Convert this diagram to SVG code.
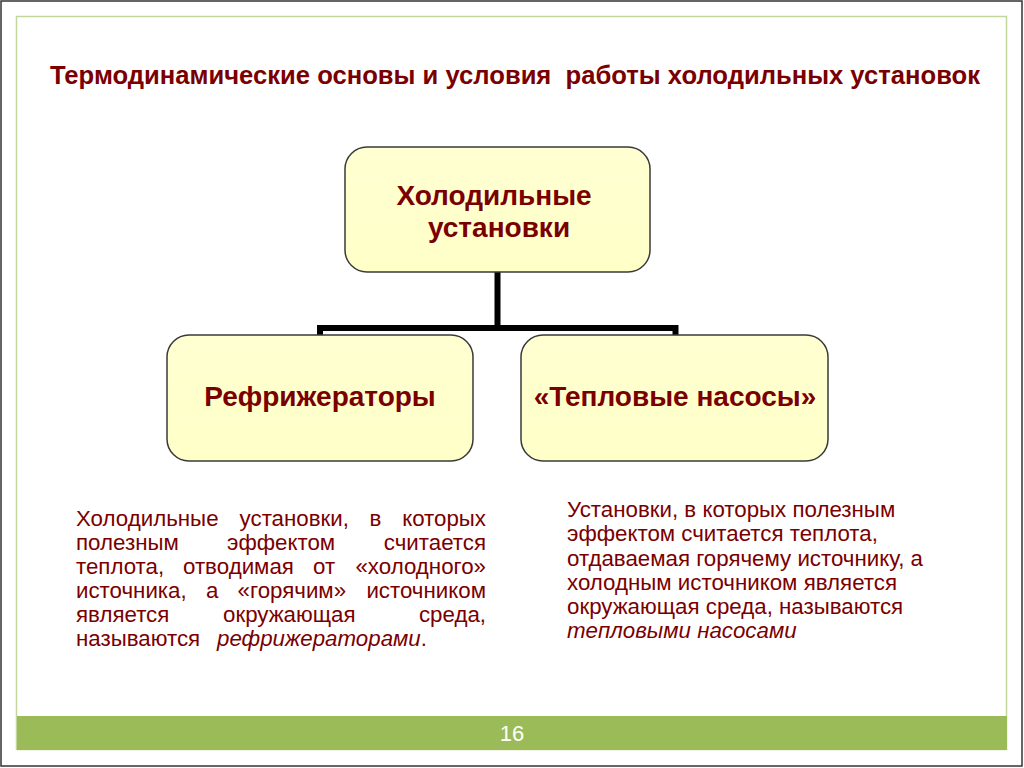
<svg xmlns="http://www.w3.org/2000/svg" width="1024" height="768" viewBox="0 0 1024 768">
<defs>
<linearGradient id="boxfill" x1="0" y1="0" x2="0" y2="1">
<stop offset="0" stop-color="#FFFFD2"/>
<stop offset="1" stop-color="#FFFFC8"/>
</linearGradient>
<style>
.box{fill:url(#boxfill);stroke:#3a3a3a;stroke-width:1.5}
.lbl{font-family:"Liberation Sans",Arial,sans-serif;font-weight:bold;fill:#7A0000;text-anchor:middle}
.body{font-family:"Liberation Sans",Arial,sans-serif;font-size:22.3px;fill:#7A0000}
.it{font-style:italic}
.conn{fill:none;stroke:#000;stroke-width:6;stroke-linejoin:miter;stroke-linecap:butt}
</style>
</defs>
<rect x="0" y="0" width="1024" height="768" fill="#fff"/>
<rect x="1" y="1" width="1021" height="765" fill="none" stroke="#333" stroke-width="1.5"/>
<rect x="16.5" y="16.5" width="990" height="733" fill="none" stroke="#C3D69B" stroke-width="1.5"/>
<rect x="17" y="716" width="990" height="34" fill="#9BBB59"/>
<text x="512" y="741" font-family="'Liberation Sans',Arial,sans-serif" font-size="22" fill="#fff" text-anchor="middle">16</text>

<text x="515" y="84" class="lbl" font-size="25" textLength="930" lengthAdjust="spacingAndGlyphs" xml:space="preserve">Термодинамические основы и условия  работы холодильных установок</text>

<g id="connectors">
<path class="conn" d="M497.5,272 V328"/>
<path class="conn" d="M320,336 V328 H675.5 V336"/>
</g>

<g id="node-top">
<rect class="box" x="345" y="147" width="305" height="125" rx="22"/>
<text class="lbl" font-size="28" x="494" y="205">Холодильные</text>
<text class="lbl" font-size="28" x="499" y="237">установки</text>
</g>

<g id="node-left">
<rect class="box" x="167" y="335" width="306" height="126" rx="22"/>
<text class="lbl" font-size="28" x="320" y="406">Рефрижераторы</text>
</g>

<g id="node-right">
<rect class="box" x="521" y="335" width="307" height="126" rx="22"/>
<text class="lbl" font-size="28" x="675" y="406">«Тепловые насосы»</text>
</g>

<g id="text-left" class="body">
<text y="526"><tspan x="76">Холодильные</tspan><tspan x="239.6">установки,</tspan><tspan x="369.6">в</tspan><tspan x="486" text-anchor="end">которых</tspan></text>
<text y="550"><tspan x="76">полезным</tspan><tspan x="227">эффектом</tspan><tspan x="486" text-anchor="end">считается</tspan></text>
<text y="574"><tspan x="76">теплота,</tspan><tspan x="183">отводимая</tspan><tspan x="313">от</tspan><tspan x="486" text-anchor="end">«холодного»</tspan></text>
<text y="598"><tspan x="76">источника,</tspan><tspan x="206">а</tspan><tspan x="237.6">«горячим»</tspan><tspan x="486" text-anchor="end">источником</tspan></text>
<text y="622"><tspan x="76">является</tspan><tspan x="223">окружающая</tspan><tspan x="486" text-anchor="end">среда,</tspan></text>
<text y="646"><tspan x="76">называются</tspan><tspan class="it" x="217">рефрижераторами</tspan><tspan>.</tspan></text>
</g>

<g id="text-right" class="body">
<text x="567" y="517">Установки, в которых полезным</text>
<text x="567" y="541">эффектом считается теплота,</text>
<text x="567" y="565.5">отдаваемая горячему источнику, а</text>
<text x="567" y="590">холодным источником является</text>
<text x="567" y="614">окружающая среда, называются</text>
<text x="567" y="638" class="it">тепловыми насосами</text>
</g>
</svg>
